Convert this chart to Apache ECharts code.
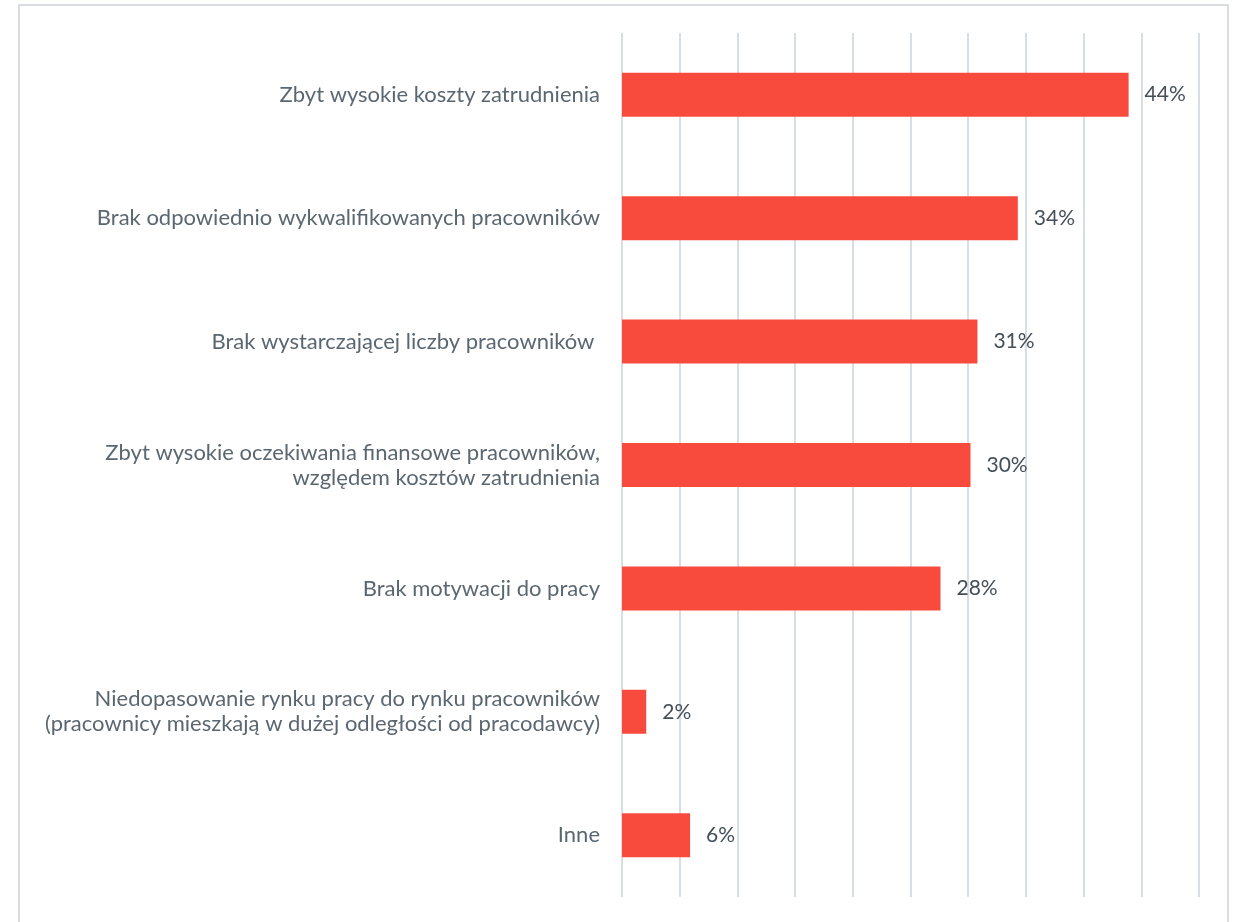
<!DOCTYPE html>
<html>
<head>
<meta charset="utf-8">
<script src="https://cdn.jsdelivr.net/npm/echarts@6/dist/echarts.min.js"></script>
<style>
html,body{margin:0;padding:0;background:#fff;}
#chart{width:1235px;height:922px;}
</style>
</head>
<body>
<div id="chart"></div>
<script>
const categories = [
  "Zbyt wysokie koszty zatrudnienia",
  "Brak odpowiednio wykwalifikowanych pracowników",
  "Brak wystarczającej liczby pracowników ",
  "Zbyt wysokie oczekiwania finansowe pracowników,\nwzględem kosztów zatrudnienia",
  "Brak motywacji do pracy",
  "Niedopasowanie rynku pracy do rynku pracowników\n(pracownicy mieszkają w dużej odległości od pracodawcy)",
  "Inne"
];
const values = [43.9, 34.3, 30.8, 30.2, 27.6, 2.1, 5.9];
const labels = ["44%", "34%", "31%", "30%", "28%", "2%", "6%"];

const chart = echarts.init(document.getElementById('chart'));
chart.setOption({
  animation: false,
  backgroundColor: '#ffffff',
  graphic: [{
    type: 'rect',
    shape: {x: 19, y: 5, width: 1209, height: 1000},
    style: {fill: 'none', stroke: '#d9dde1', lineWidth: 2},
    silent: true
  }],
  grid: {left: 622, right: 36, top: 33, bottom: 25, containLabel: false},
  xAxis: {
    type: 'value', min: 0, max: 50, interval: 5,
    axisLabel: {show: false},
    axisLine: {show: false},
    axisTick: {show: false},
    splitLine: {show: true, lineStyle: {color: '#d9dee2', width: 2}}
  },
  yAxis: {
    type: 'category', inverse: true, data: categories,
    axisLine: {show: false},
    axisTick: {show: false},
    splitLine: {show: false},
    axisLabel: {
      margin: 22, color: '#5b6770', fontSize: 22, fontFamily: 'Lato',
      lineHeight: 25, align: 'right'
    }
  },
  series: [{
    type: 'bar',
    data: values,
    barWidth: 44,
    itemStyle: {color: '#f84b3e'},
    label: {
      show: true, position: 'right', distance: 16,
      color: '#454f58', fontSize: 21, fontFamily: 'Lato',
      formatter: p => labels[p.dataIndex]
    }
  }]
});
</script>
</body>
</html>
